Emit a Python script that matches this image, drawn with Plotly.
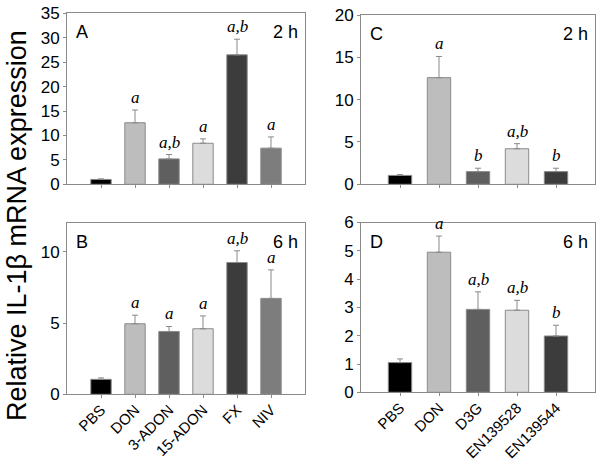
import plotly.graph_objects as go

# ---------------- data ----------------
left_cats = ["PBS", "DON", "3-ADON", "15-ADON", "FX", "NIV"]
right_cats = ["PBS", "DON", "D3G", "EN139528", "EN139544"]

a_2h = [1.0, 12.6, 5.2, 8.4, 26.5, 7.4]
a_2h_err = [0.1, 2.6, 0.9, 0.9, 3.2, 2.3]
a_letters = ["", "a", "a,b", "a", "a,b", "a"]

b_6h = [1.05, 4.95, 4.41, 4.6, 9.25, 6.73]
b_6h_err = [0.1, 0.6, 0.35, 0.9, 0.82, 2.0]
b_letters = ["", "a", "a", "a", "a,b", "a"]

c_2h = [1.05, 12.6, 1.5, 4.2, 1.5]
c_2h_err = [0.1, 2.5, 0.4, 0.6, 0.4]
c_letters = ["", "a", "b", "a,b", "b"]

d_6h = [1.05, 4.95, 2.93, 2.9, 1.99]
d_6h_err = [0.13, 0.57, 0.62, 0.35, 0.38]
d_letters = ["", "a", "a,b", "a,b", "b"]

left_colors = ["#000000", "#bdbdbd", "#5f5f5f", "#dcdcdc", "#3c3c3c", "#7d7d7d"]
right_colors = ["#000000", "#bdbdbd", "#5f5f5f", "#dcdcdc", "#3c3c3c"]

# ---------------- figure ----------------
W, H = 603, 467
SANS = "Liberation Sans, Arial, sans-serif"
SERIF = "Liberation Serif, Times New Roman, serif"
GRAY = "#8a8a8a"

panels = [
    ("x", "y", left_cats, a_2h, a_2h_err, a_letters, left_colors, (67, 305), (13.3, 184.3), [0, 35], 5, False, "A", "2 h"),
    ("x2", "y2", left_cats, b_6h, b_6h_err, b_letters, left_colors, (67, 305), (223.3, 394.3), [0, 12], 5, True, "B", "6 h"),
    ("x3", "y3", right_cats, c_2h, c_2h_err, c_letters, right_colors, (361, 595), (15, 184.3), [0, 20], 5, False, "C", "2 h"),
    ("x4", "y4", right_cats, d_6h, d_6h_err, d_letters, right_colors, (361, 595), (222.5, 392.3), [0, 6], 1, True, "D", "6 h"),
]

fig = go.Figure()
annotations = []
layout = {}

for xid, yid, cats, vals, errs, letters, colors, xd, yd, yr, dt, showlab, tag, tlabel in panels:
    n = len(cats)
    idx = list(range(n))
    fig.add_trace(go.Bar(
        x=idx, y=vals, xaxis=xid, yaxis=yid, width=0.6,
        marker=dict(color=colors, line=dict(color=GRAY, width=1)),
        error_y=dict(type="data", symmetric=False, array=errs, arrayminus=[0] * n,
                     color=GRAY, thickness=1, width=3),
        showlegend=False, hoverinfo="skip",
    ))
    xname = "xaxis" + xid[1:]
    yname = "yaxis" + yid[1:]
    layout[xname] = dict(
        domain=[xd[0] / W, xd[1] / W], anchor=yid, range=[-1, n], automargin=False,
        tickmode="array", tickvals=idx, ticktext=cats, showticklabels=showlab,
        tickangle=-45, ticks="outside", ticklen=3, tickcolor=GRAY,
        ticklabelstandoff=-3,
        showline=True, linecolor=GRAY, linewidth=1, mirror=True,
        showgrid=False, zeroline=False,
        tickfont=dict(family=SANS, size=15, color="#000"),
    )
    layout[yname] = dict(
        domain=[1 - yd[1] / H, 1 - yd[0] / H], anchor=xid, range=yr, automargin=False,
        dtick=dt, tick0=0, ticks="outside", ticklen=3, tickcolor=GRAY,
        showline=True, linecolor=GRAY, linewidth=1, mirror=True,
        showgrid=False, zeroline=False,
        tickfont=dict(family=SANS, size=17, color="#000"),
    )
    for i in idx:
        if letters[i]:
            annotations.append(dict(
                x=i, y=vals[i] + errs[i], xref=xid, yref=yid, text=letters[i],
                showarrow=False, yanchor="bottom", yshift=1,
                font=dict(family=SERIF, size=17, color="#000", style="italic"),
            ))
    ymid = 1 - (yd[0] + 19) / H
    annotations.append(dict(x=(xd[0] + 7) / W, y=ymid, xref="paper", yref="paper",
                            text=tag, showarrow=False, xanchor="left", yanchor="middle",
                            font=dict(family=SANS, size=18, color="#000")))
    annotations.append(dict(x=(xd[1] - 5) / W, y=ymid, xref="paper", yref="paper",
                            text=tlabel, showarrow=False, xanchor="right", yanchor="middle",
                            font=dict(family=SANS, size=18, color="#000")))

annotations.append(dict(x=17 / W, y=1 - 226 / H, xref="paper", yref="paper",
                        text="Relative IL-1β mRNA expression", textangle=-90,
                        showarrow=False, xanchor="center", yanchor="middle",
                        font=dict(family=SANS, size=27, color="#000")))

fig.update_layout(
    width=W, height=H, margin=dict(l=0, r=0, t=0, b=0, pad=0, autoexpand=False),
    paper_bgcolor="white", plot_bgcolor="white",
    annotations=annotations, bargap=0.4, **layout,
)

fig.write_html("out.html", config={"displayModeBar": False},
               post_script="document.body.style.margin='0';document.body.style.overflow='hidden';")
